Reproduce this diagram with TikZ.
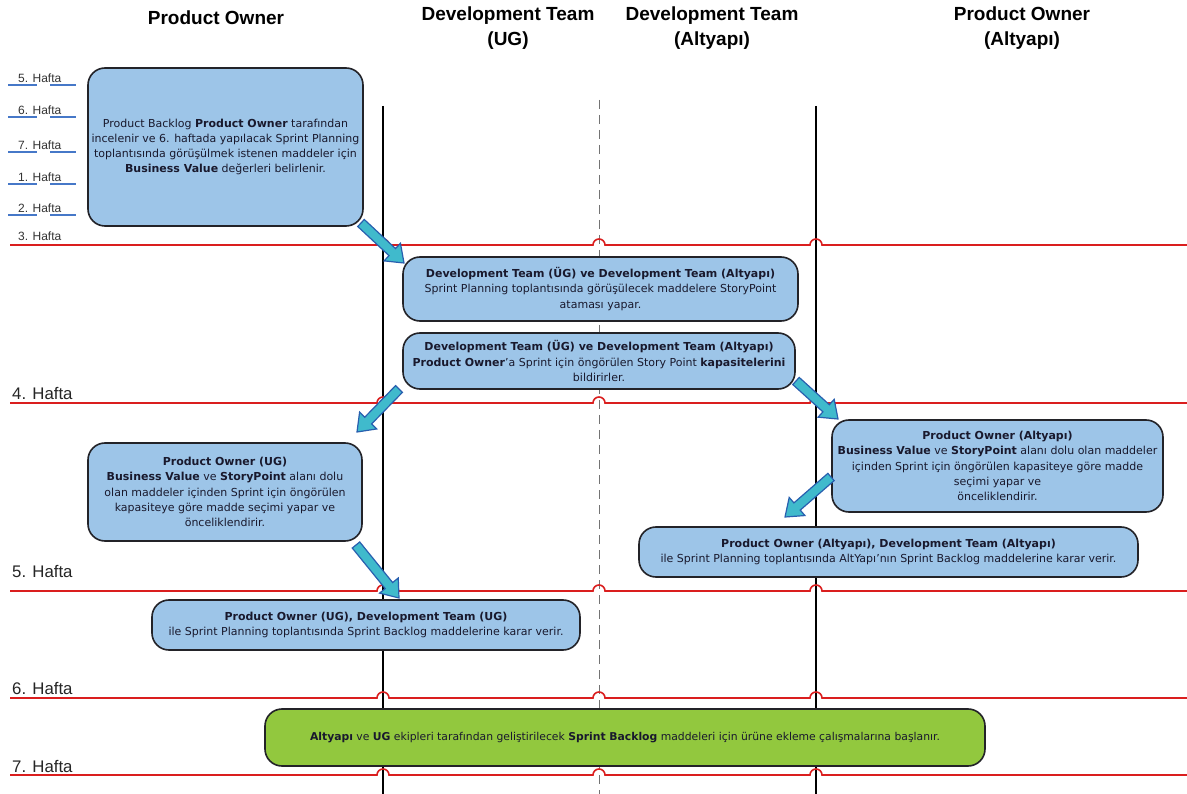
\documentclass[tikz,border=0pt]{standalone}
\usepackage{fontspec}
\setmainfont{Liberation Sans}
\newfontfamily\bodyfont{DejaVu Sans}
\usetikzlibrary{calc}
\definecolor{boxblue}{RGB}{157,197,232}
\definecolor{boxgreen}{RGB}{146,200,62}
\definecolor{boxline}{RGB}{35,35,40}
\definecolor{redl}{RGB}{218,30,30}
\definecolor{ublue}{RGB}{70,120,200}
\definecolor{arrfill}{RGB}{64,186,204}
\definecolor{arrline}{RGB}{40,95,175}
\definecolor{txt}{RGB}{25,25,45}
\tikzset{
  box/.style={draw=boxline, line width=1.6pt, fill=boxblue, rounded corners=17pt,
    align=center, inner sep=0pt, text=txt, font={\bodyfont\fontsize{11}{15.2}\selectfont}},
  hdr/.style={font={\bfseries\fontsize{19}{25}\selectfont}, align=center, inner sep=0pt},
  wk/.style={font={\fontsize{12}{14}\selectfont}, text=black!80, inner sep=0pt, anchor=west},
  bigwk/.style={font={\fontsize{16.8}{18}\selectfont}, text=black!85, inner sep=0pt, anchor=west},
  redline/.style={draw=redl, line width=1.6pt},
  ul/.style={draw=ublue, line width=1.4pt},
  vline/.style={draw=black, line width=2.4pt},
  dline/.style={draw=black!55, line width=1pt, dash pattern=on 9pt off 6pt},
  barrow/.style={draw=arrline, fill=arrfill, line width=1.2pt, line join=miter}
}
\newcommand\blockarrow[2]{%
  \coordinate (nk) at ($(#2)!16pt!(#1)$);
  \path[barrow] ($(#1)!4.8pt!90:(#2)$) -- ($(nk)!4.8pt!-90:(#1)$) -- ($(nk)!12pt!-90:(#1)$)
    -- (#2) -- ($(nk)!12pt!90:(#1)$) -- ($(nk)!4.8pt!90:(#1)$) -- ($(#1)!4.8pt!-90:(#2)$) -- cycle;
}
\newcommand\hopline[1]{%
  \path[redline] (10,#1) -- (377,#1) arc[start angle=180,end angle=0,radius=6pt]
    -- (593,#1) arc[start angle=180,end angle=0,radius=6pt]
    -- (810,#1) arc[start angle=180,end angle=0,radius=6pt] -- (1187,#1);
}
\begin{document}
\begin{tikzpicture}[x=1pt,y=-1pt]
\useasboundingbox (0,0) rectangle (1187,794);
\fill[white] (0,0) rectangle (1187,794);
% headers
\node[hdr] (h1) at (216,18) {Product Owner};
\node[hdr] (h2) at (508,28) {Development Team\\(UG)};
\node[hdr] (h3) at (712,28) {Development Team\\(Altyapı)};
\node[hdr] (h4) at (1022,28) {Product Owner\\(Altyapı)};
% vertical lines
\coordinate (v1t) at (383,106); \coordinate (v1b) at (383,794);
\coordinate (v2t) at (599,100); \coordinate (v2b) at (599,794);
\coordinate (v3t) at (816,106); \coordinate (v3b) at (816,794);
\path[vline] (v1t) -- (v1b);
\path[dline] (v2t) -- (v2b);
\path[vline] (v3t) -- (v3b);
% top week labels
\foreach \n/\y in {5/78,6/110,7/145,1/177,2/208}{
  \node[wk] (w\n) at (18,\y) {\n. Hafta};
  \path[ul] (8,\y+7) -- (37,\y+7);
  \path[ul] (50,\y+7) -- (76,\y+7);
}
\node[wk] (w3) at (18,236) {3. Hafta};
\node[bigwk] (w4) at (12,394) {4. Hafta};
\node[bigwk] (w5b) at (12,572) {5. Hafta};
\node[bigwk] (w6b) at (12,689) {6. Hafta};
\node[bigwk] (w7b) at (12,767) {7. Hafta};
% red lines
\hopline{245}
\hopline{403}
\hopline{591}
\hopline{698}
\hopline{775}
% boxes
\node[box, minimum width=275pt, minimum height=158pt] (A) at (225.5,147) {Product Backlog \textbf{Product Owner} tarafından\\incelenir ve 6. haftada yapılacak Sprint Planning\\toplantısında görüşülmek istenen maddeler için\\\textbf{Business Value} değerleri belirlenir.};
\node[box, minimum width=395pt, minimum height=64pt] (B) at (600.5,289) {\textbf{Development Team (ÜG) ve Development Team (Altyapı)}\\Sprint Planning toplantısında görüşülecek maddelere StoryPoint\\ataması yapar.};
\node[box, minimum width=392pt, minimum height=56pt] (C) at (599,361) {\textbf{Development Team (ÜG) ve Development Team (Altyapı)}\\\textbf{Product Owner}’a Sprint için öngörülen Story Point \textbf{kapasitelerini}\\bildirirler.};
\node[box, minimum width=274pt, minimum height=98pt] (D) at (225,492) {\textbf{Product Owner (UG)}\\\textbf{Business Value} ve \textbf{StoryPoint} alanı dolu\\olan maddeler içinden Sprint için öngörülen\\kapasiteye göre madde seçimi yapar ve\\önceliklendirir.};
\node[box, minimum width=331pt, minimum height=92pt] (E) at (997.5,466) {\textbf{Product Owner (Altyapı)}\\\textbf{Business Value} ve \textbf{StoryPoint} alanı dolu olan maddeler\\içinden Sprint için öngörülen kapasiteye göre madde\\seçimi yapar ve\\önceliklendirir.};
\node[box, minimum width=499pt, minimum height=50pt] (F) at (888.5,552) {\textbf{Product Owner (Altyapı), Development Team (Altyapı)}\\ile Sprint Planning toplantısında AltYapı’nın Sprint Backlog maddelerine karar verir.};
\node[box, minimum width=428pt, minimum height=50pt] (G) at (366,625) {\textbf{Product Owner (UG), Development Team (UG)}\\ile Sprint Planning toplantısında Sprint Backlog maddelerine karar verir.};
\node[box, fill=boxgreen, minimum width=720pt, minimum height=57pt, font={\bodyfont\fontsize{10.8}{13}\selectfont}] (H) at (625,737.5) {\textbf{Altyapı} ve \textbf{UG} ekipleri tarafından geliştirilecek \textbf{Sprint Backlog} maddeleri için ürüne ekleme çalışmalarına başlanır.};
% arrows
\coordinate (a1s) at (361,223); \coordinate (a1e) at (404,263);
\coordinate (a2s) at (399,389); \coordinate (a2e) at (357,432);
\coordinate (a3s) at (796,381); \coordinate (a3e) at (838,419);
\coordinate (a4s) at (356,545); \coordinate (a4e) at (399,598);
\coordinate (a5s) at (831,477); \coordinate (a5e) at (785,517);
\blockarrow{a1s}{a1e}
\blockarrow{a2s}{a2e}
\blockarrow{a3s}{a3e}
\blockarrow{a4s}{a4e}
\blockarrow{a5s}{a5e}
\end{tikzpicture}
\end{document}
